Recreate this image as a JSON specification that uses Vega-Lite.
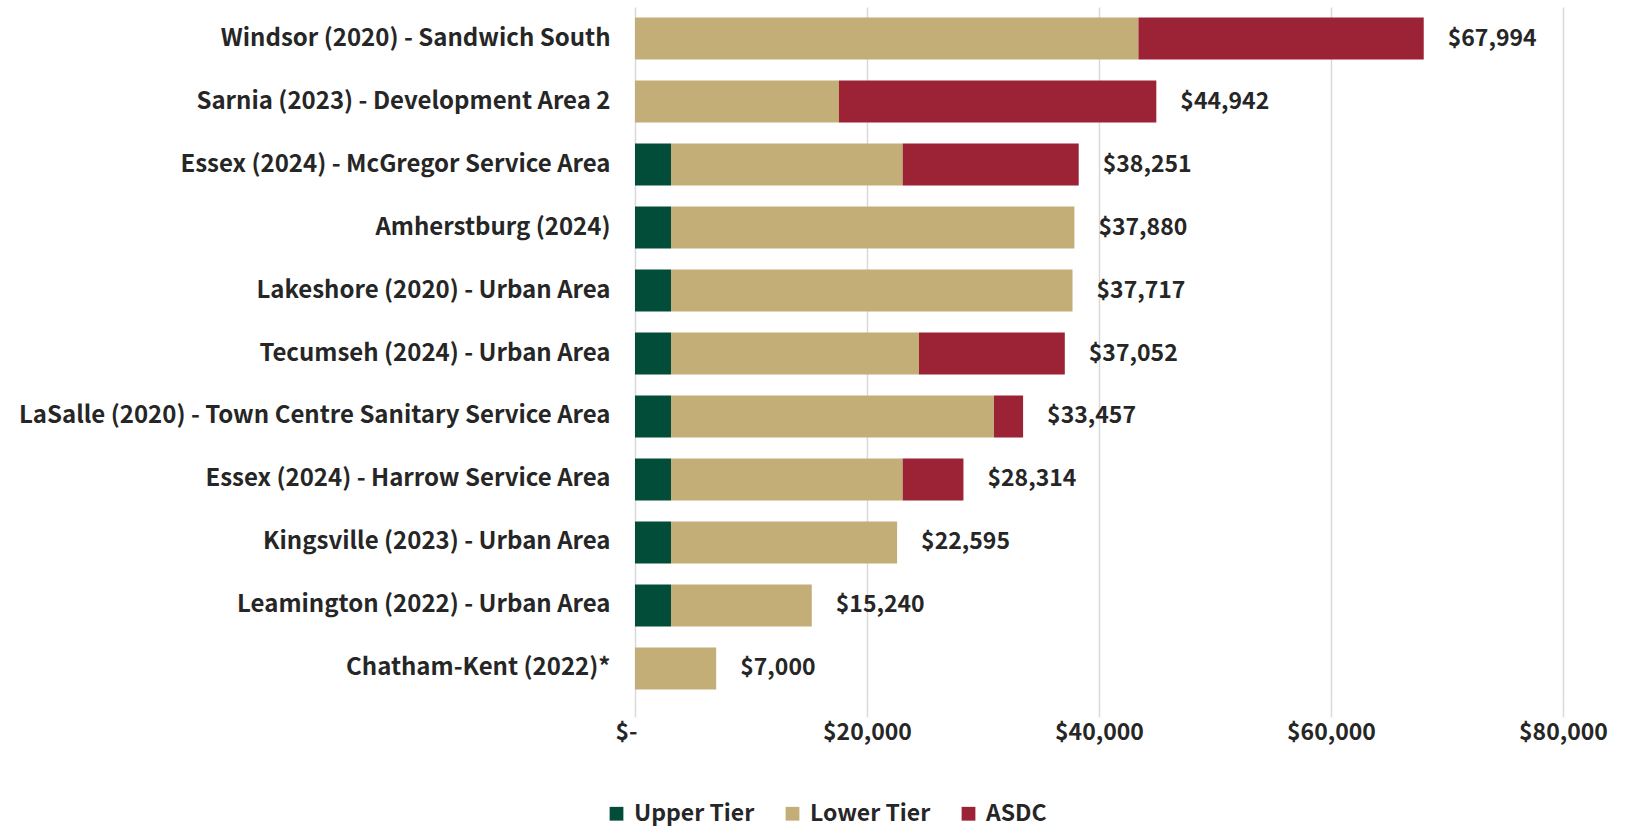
{
  "$schema": "https://vega.github.io/schema/vega-lite/v6.json",
  "autosize": {"type": "none"},
  "padding": {"left": 635, "top": 7, "right": 63, "bottom": 129},
  "width": 928,
  "height": 693,
  "background": "white",
  "config": {
    "view": {"stroke": null},
    "font": "Noto Sans CJK JP",
    "axis": {"labelFont": "Noto Sans CJK JP", "labelFontWeight": "bold", "labelColor": "#262626"},
    "legend": {"labelFont": "Noto Sans CJK JP", "labelFontWeight": "bold", "labelColor": "#262626"}
  },
  "datasets": {
    "parts": [
      {"name": "Windsor (2020) - Sandwich South", "tier": "Lower Tier", "value": 43400},
      {"name": "Windsor (2020) - Sandwich South", "tier": "ASDC", "value": 24594},
      {"name": "Sarnia (2023) - Development Area 2", "tier": "Lower Tier", "value": 17580},
      {"name": "Sarnia (2023) - Development Area 2", "tier": "ASDC", "value": 27362},
      {"name": "Essex (2024) - McGregor Service Area", "tier": "Upper Tier", "value": 3103},
      {"name": "Essex (2024) - McGregor Service Area", "tier": "Lower Tier", "value": 19972},
      {"name": "Essex (2024) - McGregor Service Area", "tier": "ASDC", "value": 15176},
      {"name": "Amherstburg (2024)", "tier": "Upper Tier", "value": 3103},
      {"name": "Amherstburg (2024)", "tier": "Lower Tier", "value": 34777},
      {"name": "Lakeshore (2020) - Urban Area", "tier": "Upper Tier", "value": 3103},
      {"name": "Lakeshore (2020) - Urban Area", "tier": "Lower Tier", "value": 34614},
      {"name": "Tecumseh (2024) - Urban Area", "tier": "Upper Tier", "value": 3103},
      {"name": "Tecumseh (2024) - Urban Area", "tier": "Lower Tier", "value": 21380},
      {"name": "Tecumseh (2024) - Urban Area", "tier": "ASDC", "value": 12569},
      {"name": "LaSalle (2020) - Town Centre Sanitary Service Area", "tier": "Upper Tier", "value": 3103},
      {"name": "LaSalle (2020) - Town Centre Sanitary Service Area", "tier": "Lower Tier", "value": 27845},
      {"name": "LaSalle (2020) - Town Centre Sanitary Service Area", "tier": "ASDC", "value": 2509},
      {"name": "Essex (2024) - Harrow Service Area", "tier": "Upper Tier", "value": 3103},
      {"name": "Essex (2024) - Harrow Service Area", "tier": "Lower Tier", "value": 19972},
      {"name": "Essex (2024) - Harrow Service Area", "tier": "ASDC", "value": 5239},
      {"name": "Kingsville (2023) - Urban Area", "tier": "Upper Tier", "value": 3103},
      {"name": "Kingsville (2023) - Urban Area", "tier": "Lower Tier", "value": 19492},
      {"name": "Leamington (2022) - Urban Area", "tier": "Upper Tier", "value": 3103},
      {"name": "Leamington (2022) - Urban Area", "tier": "Lower Tier", "value": 12137},
      {"name": "Chatham-Kent (2022)*", "tier": "Lower Tier", "value": 7000}
    ],
    "totals": [
      {"name": "Windsor (2020) - Sandwich South", "total": 67994},
      {"name": "Sarnia (2023) - Development Area 2", "total": 44942},
      {"name": "Essex (2024) - McGregor Service Area", "total": 38251},
      {"name": "Amherstburg (2024)", "total": 37880},
      {"name": "Lakeshore (2020) - Urban Area", "total": 37717},
      {"name": "Tecumseh (2024) - Urban Area", "total": 37052},
      {"name": "LaSalle (2020) - Town Centre Sanitary Service Area", "total": 33457},
      {"name": "Essex (2024) - Harrow Service Area", "total": 28314},
      {"name": "Kingsville (2023) - Urban Area", "total": 22595},
      {"name": "Leamington (2022) - Urban Area", "total": 15240},
      {"name": "Chatham-Kent (2022)*", "total": 7000}
    ]
  },
  "layer": [
    {
      "data": {"name": "parts"},
      "mark": {"type": "bar"},
      "encoding": {
        "y": {
          "field": "name", "type": "nominal",
          "sort": ["Windsor (2020) - Sandwich South", "Sarnia (2023) - Development Area 2", "Essex (2024) - McGregor Service Area", "Amherstburg (2024)", "Lakeshore (2020) - Urban Area", "Tecumseh (2024) - Urban Area", "LaSalle (2020) - Town Centre Sanitary Service Area", "Essex (2024) - Harrow Service Area", "Kingsville (2023) - Urban Area", "Leamington (2022) - Urban Area", "Chatham-Kent (2022)*"],
          "scale": {"paddingInner": 0.333, "paddingOuter": 0.1667},
          "axis": {"title": null, "ticks": false, "domain": false, "labelFontSize": 24, "labelPadding": 25, "labelLimit": 700}
        },
        "x": {
          "field": "value", "type": "quantitative", "stack": "zero",
          "scale": {"domain": [0, 80000], "nice": false},
          "axis": {
            "title": null, "values": [0, 20000, 40000, 60000, 80000],
            "labelExpr": "datum.value == 0 ? '$-' : '$' + format(datum.value, ',d')",
            "labelOffset": {"condition": {"test": "datum.value == 0", "value": -9}, "value": 0},
            "labelFontSize": 23, "labelPadding": 4, "labelFlush": false,
            "grid": true, "gridColor": "#d9d9d9", "gridWidth": 1.5,
            "domain": false, "ticks": true, "tickColor": "#d9d9d9", "tickWidth": 1.5, "tickSize": 17
          }
        },
        "color": {
          "field": "tier", "type": "nominal",
          "scale": {"domain": ["Upper Tier", "Lower Tier", "ASDC"], "range": ["#024D3A", "#C4AE78", "#9C2235"]},
          "legend": {
            "title": null, "orient": "none", "direction": "horizontal",
            "legendX": -30, "legendY": 795,
            "symbolType": "square", "symbolSize": 190, "symbolStrokeWidth": 0,
            "labelFontSize": 23, "columnPadding": 26, "labelOffset": 6
          }
        },
        "order": {"field": "tier", "sort": "descending"}
      }
    },
    {
      "data": {"name": "totals"},
      "mark": {"type": "text", "align": "left", "baseline": "middle", "dx": 24, "fontSize": 23, "fontWeight": "bold", "color": "#262626", "font": "Noto Sans CJK JP"},
      "encoding": {
        "y": {"field": "name", "type": "nominal", "sort": ["Windsor (2020) - Sandwich South", "Sarnia (2023) - Development Area 2", "Essex (2024) - McGregor Service Area", "Amherstburg (2024)", "Lakeshore (2020) - Urban Area", "Tecumseh (2024) - Urban Area", "LaSalle (2020) - Town Centre Sanitary Service Area", "Essex (2024) - Harrow Service Area", "Kingsville (2023) - Urban Area", "Leamington (2022) - Urban Area", "Chatham-Kent (2022)*"]},
        "x": {"field": "total", "type": "quantitative"},
        "text": {"field": "total", "type": "quantitative", "format": "$,d"}
      }
    }
  ]
}
